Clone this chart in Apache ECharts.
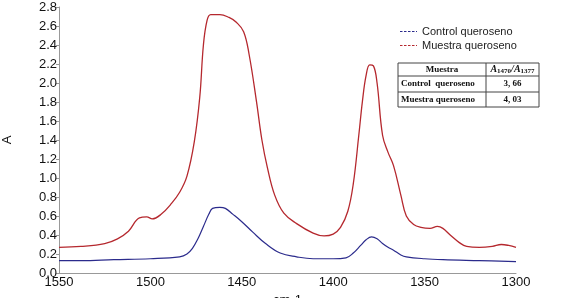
<!DOCTYPE html>
<html>
<head>
<meta charset="utf-8">
<script src="https://cdn.jsdelivr.net/npm/echarts@6/dist/echarts.min.js"></script>
<style>
  html, body { margin: 0; padding: 0; background: #fff; }
  #chart { width: 582px; height: 298px; }
</style>
</head>
<body>
<div id="chart"></div>
<script>
// espectros (cm-1, absorbancia)
const muestraX = [1550, 1538, 1525, 1518, 1512, 1506, 1502, 1499, 1494, 1489, 1484, 1480, 1476, 1473, 1471, 1469, 1467, 1462, 1457, 1453, 1449, 1446, 1442, 1439, 1436, 1432, 1427, 1420, 1411, 1405, 1400, 1396, 1392, 1389, 1386, 1384, 1382, 1380, 1378, 1376, 1373, 1370, 1367, 1363, 1360, 1356, 1352, 1347, 1343, 1340, 1336, 1331, 1327, 1320, 1313, 1308, 1304, 1300];
const muestraY = [0.27, 0.28, 0.31, 0.36, 0.44, 0.58, 0.59, 0.57, 0.62, 0.72, 0.85, 1.02, 1.38, 1.85, 2.40, 2.66, 2.72, 2.72, 2.69, 2.64, 2.54, 2.30, 1.81, 1.40, 1.11, 0.82, 0.63, 0.52, 0.42, 0.39, 0.41, 0.48, 0.65, 0.94, 1.45, 1.81, 2.08, 2.19, 2.18, 2.00, 1.45, 1.27, 1.13, 0.82, 0.60, 0.51, 0.48, 0.47, 0.49, 0.47, 0.40, 0.32, 0.28, 0.27, 0.28, 0.30, 0.29, 0.27];

const controlX = [1550, 1538, 1520, 1500, 1484, 1480, 1477, 1474, 1471, 1468, 1466, 1462, 1459, 1455, 1450, 1444, 1437, 1429, 1420, 1411, 1400, 1393, 1389, 1385, 1382, 1379, 1376, 1373, 1370, 1367, 1363, 1360, 1350, 1340, 1320, 1300];
const controlY = [0.13, 0.13, 0.14, 0.15, 0.17, 0.20, 0.26, 0.36, 0.49, 0.62, 0.68, 0.69, 0.68, 0.62, 0.54, 0.43, 0.31, 0.21, 0.17, 0.15, 0.15, 0.16, 0.21, 0.29, 0.35, 0.38, 0.36, 0.31, 0.27, 0.24, 0.19, 0.17, 0.15, 0.14, 0.13, 0.12];

const tabla = [
  ['Muestra', 'A1470/A1377'],
  ['Control  queroseno', '3, 66'],
  ['Muestra queroseno', '4, 03']
];

const azul = '#2b2b8c';
const rojo = '#b5282e';

function pares(xs, ys) {
  return xs.map((x, i) => [x, ys[i]]);
}

let chartDom = document.getElementById('chart');
let myChart = echarts.init(chartDom);

// leyenda: posicion y guiones
const legLeft = 400, legTop = 26, legRow = 11, legGap = 3, legW = 17;
let leyendaGraphic = [azul, rojo].map((c, i) => ({
  type: 'line',
  shape: { x1: legLeft, y1: legTop + legRow / 2 + i * (legRow + legGap), x2: legLeft + legW, y2: legTop + legRow / 2 + i * (legRow + legGap) },
  style: { stroke: c, lineWidth: 1, lineDash: [2.5, 1.5] }
}));

// tabla dibujada con graphic
const tx0 = 398, tx1 = 486, tx2 = 539;
const ty = [63, 76, 92, 107];
const serif = '"Liberation Serif", "DejaVu Serif", serif';
let tablaGraphic = [
  { type: 'rect', shape: { x: tx0, y: ty[0], width: tx2 - tx0, height: ty[3] - ty[0] },
    style: { fill: '#fff', stroke: '#444', lineWidth: 1 } },
  { type: 'line', shape: { x1: tx1, y1: ty[0], x2: tx1, y2: ty[3] }, style: { stroke: '#444', lineWidth: 1 } },
  { type: 'line', shape: { x1: tx0, y1: ty[1], x2: tx2, y2: ty[1] }, style: { stroke: '#444', lineWidth: 1 } },
  { type: 'line', shape: { x1: tx0, y1: ty[2], x2: tx2, y2: ty[2] }, style: { stroke: '#444', lineWidth: 1 } }
];
tabla.forEach((fila, r) => {
  let yc = (ty[r] + ty[r + 1]) / 2;
  let izq = r === 0
    ? { x: (tx0 + tx1) / 2, align: 'center' }
    : { x: tx0 + 3, align: 'left' };
  tablaGraphic.push({
    type: 'text', x: izq.x, y: yc,
    style: { text: fila[0], font: 'bold 9px ' + serif, fill: '#111', align: izq.align, verticalAlign: 'middle' }
  });
  if (r === 0) {
    tablaGraphic.push({
      type: 'text', x: (tx1 + tx2) / 2, y: yc,
      style: {
        text: '{a|A}{s|1470}{a|/A}{s|1377}',
        align: 'center', verticalAlign: 'middle',
        rich: {
          a: { font: 'italic bold 10px ' + serif, fill: '#111' },
          s: { font: 'bold 7px ' + serif, fill: '#111', padding: [4, 0, 0, 0] }
        }
      }
    });
  } else {
    tablaGraphic.push({
      type: 'text', x: (tx1 + tx2) / 2, y: yc,
      style: { text: fila[1], font: 'bold 9px ' + serif, fill: '#111', align: 'center', verticalAlign: 'middle' }
    });
  }
});

let option = {
  animation: false,
  textStyle: { fontFamily: 'Arial, "Liberation Sans", sans-serif' },
  grid: { left: 59, right: 66, top: 7, bottom: 25, containLabel: false, outerBoundsMode: 'none' },
  legend: {
    orient: 'vertical',
    left: legLeft,
    top: legTop,
    padding: 0,
    itemGap: legGap,
    itemWidth: legW,
    itemHeight: 2,
    icon: 'rect',
    itemStyle: { opacity: 0 },
    lineStyle: { opacity: 0 },
    textStyle: { fontSize: 11, color: '#222', fontFamily: 'Arial, "Liberation Sans", sans-serif' },
    data: ['Control queroseno', 'Muestra queroseno']
  },
  xAxis: {
    type: 'value',
    inverse: true,
    min: 1300,
    max: 1550,
    interval: 50,
    name: 'cm-1',
    nameLocation: 'middle',
    nameGap: 21,
    nameTextStyle: { fontSize: 13, color: '#111' },
    axisLine: { show: true, lineStyle: { color: '#999', width: 1 } },
    axisTick: { show: false },
    splitLine: { show: false },
    axisLabel: { fontSize: 13, color: '#111', margin: 3, formatter: v => String(v) }
  },
  yAxis: {
    type: 'value',
    min: 0,
    max: 2.8,
    interval: 0.2,
    name: 'A',
    nameLocation: 'middle',
    nameGap: 45,
    nameRotate: 90,
    nameTextStyle: { fontSize: 13, color: '#111' },
    axisLine: { show: true, lineStyle: { color: '#999', width: 1 } },
    axisTick: { show: true, length: 3, lineStyle: { color: '#999' } },
    splitLine: { show: false },
    axisLabel: {
      fontSize: 13, color: '#111', margin: 2,
      formatter: v => v.toFixed(1)
    }
  },
  series: [
    {
      name: 'Control queroseno',
      type: 'line',
      smooth: 0.4,
      showSymbol: false,
      lineStyle: { color: azul, width: 1.2 },
      itemStyle: { color: azul },
      data: pares(controlX, controlY)
    },
    {
      name: 'Muestra queroseno',
      type: 'line',
      smooth: 0.4,
      showSymbol: false,
      lineStyle: { color: rojo, width: 1.3 },
      itemStyle: { color: rojo },
      data: pares(muestraX, muestraY)
    }
  ],
  graphic: leyendaGraphic.concat(tablaGraphic)
};

option && myChart.setOption(option);
</script>
</body>
</html>
